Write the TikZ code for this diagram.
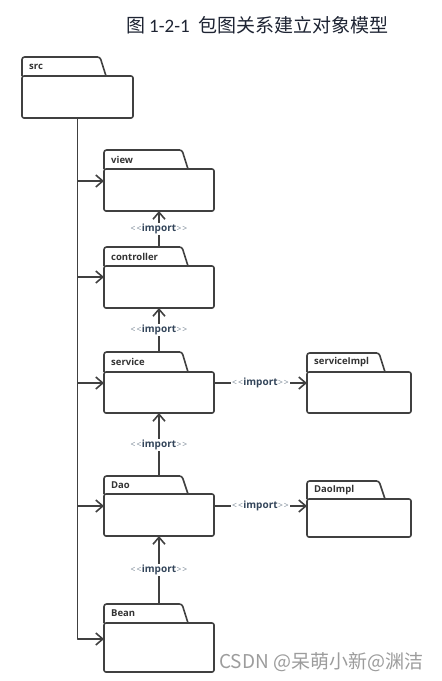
\documentclass[tikz,border=0pt]{standalone}
\usepackage{fontspec}
\setmainfont{Open Sans}
\newfontfamily\cjk{Noto Sans CJK SC}
\newfontfamily\carl{Carlito}
\usetikzlibrary{arrows.meta}
\definecolor{lineC}{HTML}{404040}
\definecolor{txtC}{HTML}{333333}
\definecolor{impC}{HTML}{33455A}
\definecolor{ltC}{HTML}{7A8896}
\definecolor{titleC}{HTML}{1E2433}
\definecolor{wmC}{HTML}{9C9C9C}
\tikzset{
  pkgline/.style={draw=lineC, line width=1.6pt, line join=round},
  pkgbody/.style={pkgline, rectangle, rounded corners=2pt, inner sep=0pt, outer sep=0pt, fill=white},
  pkglabel/.style={text=txtC, font=\fontsize{9.5}{11}\selectfont\bfseries, inner sep=0pt},
  opentip/.style={-{Straight Barb[length=7pt,width=12pt,line width=1.6pt]}},
  conn/.style={pkgline, opentip},
  implabel/.style={fill=white, inner sep=1pt, font=\fontsize{10}{11}\selectfont},
}
\newcommand\lt{{\color{ltC}\fontsize{8.5}{9}\selectfont<\kern1pt<\kern0.5pt}}
\newcommand\gt{{\color{ltC}\fontsize{8.5}{9}\selectfont\kern0.5pt>\kern1pt>}}
\newcommand\imp{\lt{\color{impC}\bfseries import}\gt}
% #1 name, #2 left, #3 right, #4 tab right, #5 tab top, #6 body top, #7 bottom, #8 label, #9 port y
\newcommand\pkg[9]{%
  \pgfmathsetmacro\pw{#3-#2}%
  \pgfmathsetmacro\ph{#7-#6}%
  \pgfmathsetmacro\pcx{(#2+#3)/2}%
  \pgfmathsetmacro\pcy{(#6+#7)/2}%
  \pgfmathsetmacro\ptab{(#5+#6)/2}%
  \draw[pkgline, rounded corners=2.5pt] (#2,#6) -- (#2,#5) -- (#4-6,#5) -- (#4,#6);
  \node[pkgbody, minimum width=\pw pt, minimum height=\ph pt] (#1) at (\pcx,\pcy) {};
  \node[pkglabel, anchor=west] (#1 tab) at (#2+7,\ptab) {#8};
  \coordinate (#1 top) at (\pcx,#5);
  \coordinate (#1 w) at (#2,#9);
  \coordinate (#1 e) at (#3,#9);
}
\begin{document}
\begin{tikzpicture}[x=1pt,y=-1pt]
\useasboundingbox (0,0) rectangle (442,681);
\node[anchor=west, text=titleC, inner sep=0pt, font=\fontsize{19}{22}\selectfont] (title) at (126,25)
  {\cjk 图\hspace{4pt}\carl 1-2-1\hspace{9pt}\cjk 包图关系建立对象模型};

\pkg{src}{22}{133}{106}{57}{76}{118}{src}{97}
\pkg{view}{104}{214}{188}{150}{169}{211}{view}{181}
\pkg{controller}{104}{214}{188}{247}{266}{308}{controller}{277}
\pkg{service}{104}{214}{188}{352}{372}{413}{service}{383}
\pkg{serviceImpl}{307}{411}{385}{353}{372}{413}{serviceImpl}{383}
\pkg{Dao}{104}{214}{188}{476}{494}{536}{Dao}{506}
\pkg{DaoImpl}{307}{411}{385}{481}{499}{537}{DaoImpl}{506}
\pkg{Bean}{104}{214}{188}{604}{623}{672}{Bean}{639}

% trunk and branches
\draw[conn] (src.south) |- (Bean w);
\draw[conn] (src.south |- view w) -- (view w);
\draw[conn] (src.south |- controller w) -- (controller w);
\draw[conn] (src.south |- service w) -- (service w);
\draw[conn] (src.south |- Dao w) -- (Dao w);

% imports
\draw[conn] (controller top) -- node[implabel] (l1) {\imp} (view.south);
\draw[conn] (service top) -- node[implabel] (l2) {\imp} (controller.south);
\draw[conn] (Dao top) -- node[implabel] (l3) {\imp} (service.south);
\draw[conn] (Bean top) -- node[implabel] (l4) {\imp} (Dao.south);
\draw[conn] (service e) -- node[implabel] (l5) {\imp} (serviceImpl w);
\draw[conn] (Dao e) -- node[implabel] (l6) {\imp} (DaoImpl w);

\node[anchor=west, text=wmC, inner sep=0pt, font=\cjk\fontsize{19}{21}\selectfont] (wm) at (219,662) {CSDN @呆萌小新@渊洁};
\end{tikzpicture}
\end{document}
